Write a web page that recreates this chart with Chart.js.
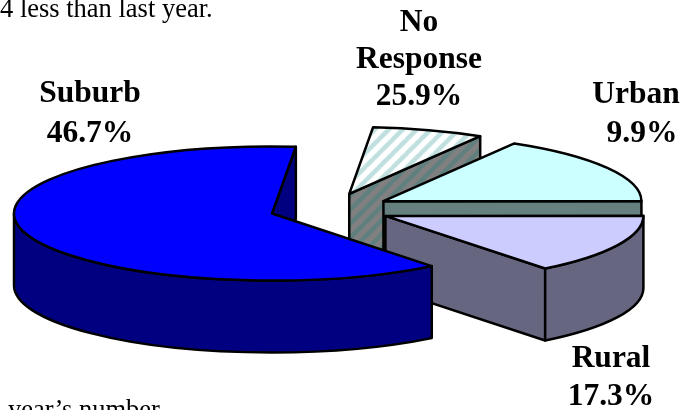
<!DOCTYPE html>
<html>
<head>
<meta charset="utf-8">
<style>html,body{margin:0;padding:0;background:#fff;overflow:hidden}canvas{display:block}</style>
<script src="https://cdn.jsdelivr.net/npm/chart.js@4/dist/chart.umd.js"></script>
</head>
<body>
<canvas id="c" width="692" height="410"></canvas>
<script>
// Painted order, back to front.
const categories = ['No Response', 'Urban', 'Rural', 'Suburb'];
// The percentages printed beside the slices.
const printedPercents = ['25.9%', '9.9%', '17.3%', '46.7%'];
const drawnShares = [7.0, 16.5, 14.4, 62.1];
const topColors = ['#FFFFFF', '#CCFFFF', '#CCCCFF', '#0000FF'];
const sideColors = ['#808080', '#668080', '#666680', '#000080'];
const introText = '4 less than last year.';
const outroText = 'year\u2019s number';

const SERIF = '"Liberation Serif","Times New Roman",serif';
const R = 200, RX = 258, RY = 67, DEPTH = 72, EXPLODE = 61, CX = 330.5, CY = 209;
const sx = RX / R, sy = RY / R;

function stripes(ctx, bg, fg) {
  const p = 14, t = document.createElement('canvas');
  t.width = t.height = p;
  const g = t.getContext('2d');
  g.fillStyle = bg; g.fillRect(0, 0, p, p);
  g.strokeStyle = fg; g.lineWidth = 4.5;
  [-p, 0, p].forEach(o => { g.beginPath(); g.moveTo(o - 1, p + 1); g.lineTo(o + p + 1, -1); g.stroke(); });
  return ctx.createPattern(t, 'repeat');
}

const ctx0 = document.getElementById('c').getContext('2d');
const hatchTop = stripes(ctx0, '#FFFFFF', '#C0E0E0');
hatchTop.setTransform(new DOMMatrix().scale(1 / sx, 1 / sy));
const hatchSide = stripes(ctx0, '#808080', '#608080');
const topFills = topColors.map((c, i) => i === 0 ? hatchTop : c);
const sideFills = sideColors.map((c, i) => i === 0 ? hatchSide : c);

const labelBlocks = [
  { lines: ['No', 'Response', printedPercents[0]], x: 419, y: [31, 68, 105] },
  { lines: ['Urban'], x: 636, y: [103] },
  { lines: [printedPercents[1]], x: 642, y: [142] },
  { lines: ['Rural', printedPercents[2]], x: 611, y: [367, 405] },
  { lines: ['Suburb', printedPercents[3]], x: 90, y: [102, 142] }
];

const pie3d = {
  id: 'pie3d',
  beforeDatasetsDraw(chart) {
    const ctx = chart.ctx;
    chart.getDatasetMeta(0).data.forEach((arc, i) => {
      const a = arc.startAngle, b = arc.endAngle, mid = (a + b) / 2;
      const ax = CX + Math.cos(mid) * EXPLODE;
      const ay = CY + Math.sin(mid) * EXPLODE * sy / sx;
      const pt = t => [ax + RX * Math.cos(t), ay + RY * Math.sin(t)];
      ctx.save();
      ctx.lineWidth = 2.5; ctx.strokeStyle = '#000'; ctx.lineJoin = 'round';
      ctx.fillStyle = sideFills[i];
      const radial = t => {
        const p = pt(t);
        ctx.beginPath();
        ctx.moveTo(ax, ay); ctx.lineTo(p[0], p[1]);
        ctx.lineTo(p[0], p[1] + DEPTH); ctx.lineTo(ax, ay + DEPTH);
        ctx.closePath(); ctx.fill(); ctx.stroke();
      };
      if (-Math.cos(a) > 0) radial(a);
      if (Math.cos(b) > 0) radial(b);
      [0, 2 * Math.PI, -2 * Math.PI].forEach(k => {
        const s = Math.max(a, k), e = Math.min(b, k + Math.PI);
        if (e <= s) return;
        ctx.beginPath();
        ctx.ellipse(ax, ay, RX, RY, 0, s, e);
        ctx.ellipse(ax, ay + DEPTH, RX, RY, 0, e, s, true);
        ctx.closePath(); ctx.fill(); ctx.stroke();
      });
      ctx.save();
      ctx.translate(ax, ay); ctx.scale(sx, sy); ctx.translate(-arc.x, -arc.y);
      arc.draw(ctx);
      ctx.restore();
      ctx.beginPath();
      ctx.moveTo(ax, ay);
      ctx.ellipse(ax, ay, RX, RY, 0, a, b);
      ctx.closePath(); ctx.stroke();
      ctx.restore();
    });
    ctx.save();
    ctx.fillStyle = '#000'; ctx.textBaseline = 'alphabetic';
    ctx.font = '26.5px ' + SERIF; ctx.textAlign = 'left';
    ctx.fillText(introText, 0, 17);
    ctx.fillText(outroText, 8, 418);
    ctx.font = 'bold 31.5px ' + SERIF; ctx.textAlign = 'center';
    labelBlocks.forEach(l => l.lines.forEach((t, j) => ctx.fillText(t, l.x, l.y[j])));
    ctx.restore();
    return false;
  }
};

new Chart(ctx0, {
  type: 'pie',
  data: {
    labels: categories,
    datasets: [{ data: drawnShares, backgroundColor: topFills, borderWidth: 0 }]
  },
  options: {
    responsive: false, animation: false, radius: R, rotation: 5.3,
    events: [],
    plugins: { legend: { display: false }, tooltip: { enabled: false } }
  },
  plugins: [pie3d]
});
</script>
</body>
</html>
